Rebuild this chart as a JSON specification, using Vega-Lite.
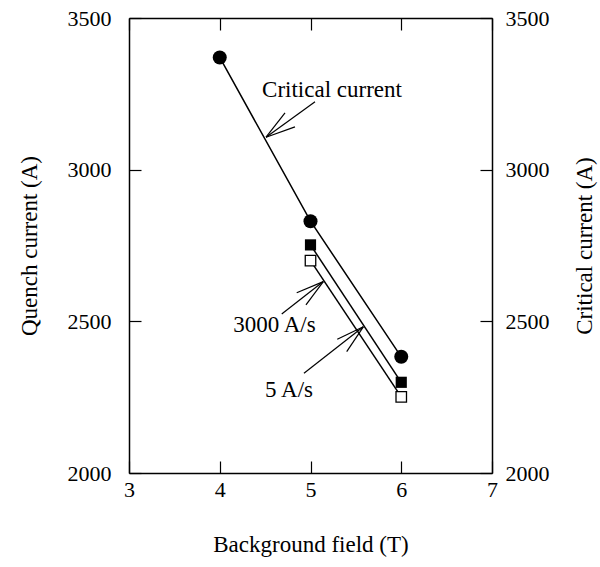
{
  "$schema": "https://vega.github.io/schema/vega-lite/v6.json",
  "width": 363,
  "height": 455,
  "autosize": {"type": "none"},
  "padding": {"left": 129, "top": 18, "right": 108, "bottom": 94},
  "background": "white",
  "config": {
    "view": {"stroke": null},
    "axis": {
      "domainColor": "black",
      "domainWidth": 1.5,
      "tickColor": "black",
      "tickWidth": 1.2,
      "tickSize": -12,
      "grid": false,
      "format": "d",
      "labelFlush": false,
      "labelFont": "Liberation Serif",
      "labelFontSize": 22,
      "labelColor": "black",
      "titleFont": "Liberation Serif",
      "titleFontSize": 23,
      "titleFontWeight": "normal",
      "titleColor": "black"
    }
  },
  "datasets": {
    "series": [
      {"B": 4, "I": 3370, "s": "Critical current"},
      {"B": 5, "I": 2830, "s": "Critical current"},
      {"B": 6, "I": 2383, "s": "Critical current"},
      {"B": 5, "I": 2752, "s": "5 A/s"},
      {"B": 6, "I": 2299, "s": "5 A/s"},
      {"B": 5, "I": 2700, "s": "3000 A/s"},
      {"B": 6, "I": 2251, "s": "3000 A/s"}
    ],
    "arrows": [
      {"x": 5.05, "y": 3224, "x2": 4.51, "y2": 3107},
      {"x": 4.719, "y": 3187, "x2": 4.51, "y2": 3107},
      {"x": 4.829, "y": 3141, "x2": 4.51, "y2": 3107},
      {"x": 4.683, "y": 2524, "x2": 5.141, "y2": 2631},
      {"x": 4.848, "y": 2594, "x2": 5.141, "y2": 2631},
      {"x": 4.95, "y": 2554, "x2": 5.141, "y2": 2631},
      {"x": 4.928, "y": 2329, "x2": 5.582, "y2": 2482},
      {"x": 5.295, "y": 2441, "x2": 5.582, "y2": 2482},
      {"x": 5.399, "y": 2400, "x2": 5.582, "y2": 2482}
    ],
    "labels": [
      {"x": 4.466, "y": 3240, "label": "Critical current"},
      {"x": 4.149, "y": 2466, "label": "3000 A/s"},
      {"x": 4.499, "y": 2252, "label": "5 A/s"}
    ]
  },
  "layer": [
    {
      "layer": [
        {
          "data": {"name": "series"},
          "mark": {"type": "line", "color": "black", "strokeWidth": 1.5},
          "encoding": {
            "x": {"field": "B", "type": "quantitative", "scale": {"domain": [3, 7], "nice": false},
              "axis": {"orient": "bottom", "values": [3, 4, 5, 6, 7], "title": "Background field (T)", "labelPadding": 18, "titlePadding": 33, "labelFont": "Liberation Serif", "titleFont": "Liberation Serif"}},
            "y": {"field": "I", "type": "quantitative", "scale": {"domain": [2000, 3500], "nice": false, "zero": false},
              "axis": {"orient": "left", "values": [2000, 2500, 3000, 3500], "title": "Quench current (A)", "labelPadding": 30, "titlePadding": 26, "labelFont": "Liberation Serif", "titleFont": "Liberation Serif"}},
            "detail": {"field": "s"}
          }
        },
        {
          "data": {"name": "series"},
          "transform": [{"filter": "datum.s === 'Critical current'"}],
          "mark": {"type": "point", "shape": "circle", "filled": true, "color": "black", "size": 196, "opacity": 1},
          "encoding": {
            "x": {"field": "B", "type": "quantitative"},
            "y": {"field": "I", "type": "quantitative"}
          }
        },
        {
          "data": {"name": "series"},
          "transform": [{"filter": "datum.s === '5 A/s'"}],
          "mark": {"type": "point", "shape": "square", "filled": true, "color": "black", "size": 125, "opacity": 1},
          "encoding": {
            "x": {"field": "B", "type": "quantitative"},
            "y": {"field": "I", "type": "quantitative"}
          }
        },
        {
          "data": {"name": "series"},
          "transform": [{"filter": "datum.s === '3000 A/s'"}],
          "mark": {"type": "point", "shape": "square", "filled": true, "fill": "white", "stroke": "black", "strokeWidth": 1.3, "size": 110, "opacity": 1},
          "encoding": {
            "x": {"field": "B", "type": "quantitative"},
            "y": {"field": "I", "type": "quantitative"}
          }
        },
        {
          "data": {"name": "arrows"},
          "mark": {"type": "rule", "color": "black", "strokeWidth": 1.2},
          "encoding": {
            "x": {"field": "x", "type": "quantitative"},
            "y": {"field": "y", "type": "quantitative"},
            "x2": {"field": "x2"},
            "y2": {"field": "y2"}
          }
        },
        {
          "data": {"name": "labels"},
          "mark": {"type": "text", "align": "left", "baseline": "alphabetic", "font": "Liberation Serif", "fontSize": 23, "color": "black"},
          "encoding": {
            "x": {"field": "x", "type": "quantitative"},
            "y": {"field": "y", "type": "quantitative"},
            "text": {"field": "label"}
          }
        }
      ]
    },
    {
      "data": {"name": "series"},
      "mark": {"type": "point", "opacity": 0},
      "encoding": {
        "x": {"field": "B", "type": "quantitative", "scale": {"domain": [3, 7], "nice": false},
          "axis": {"orient": "top", "values": [3, 4, 5, 6, 7], "labels": false, "title": null}},
        "y": {"field": "I", "type": "quantitative", "scale": {"domain": [2000, 3500], "nice": false, "zero": false},
          "axis": {"orient": "right", "values": [2000, 2500, 3000, 3500], "title": "Critical current (A)", "titleAngle": 270, "titleBaseline": "top", "labelPadding": 25, "titlePadding": 24, "labelFont": "Liberation Serif", "titleFont": "Liberation Serif"}}
      }
    }
  ],
  "resolve": {"scale": {"x": "independent", "y": "independent"}}
}
